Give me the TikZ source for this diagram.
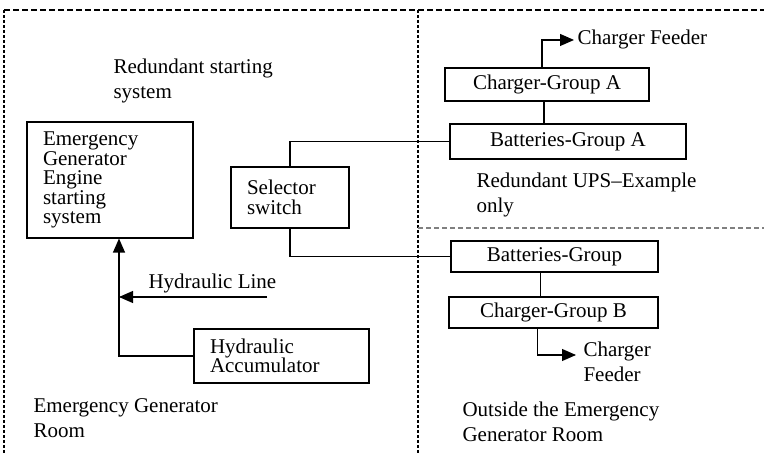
\documentclass[tikz,border=0pt]{standalone}
\usepackage{fontspec}
\setmainfont{Liberation Serif}
\usetikzlibrary{arrows.meta,positioning}
\begin{document}
\begin{tikzpicture}[x=1pt,y=-1pt,line width=1.1pt]
	\tikzstyle{unit box}=[draw,rectangle,inner sep=0pt,font=\fontsize{21}{19.5}\selectfont]
	\tikzstyle{left box}=[unit box,align=left,inner xsep=16pt]
	\tikzstyle{label}=[inner sep=0pt,anchor=north west,align=left,font=\fontsize{21}{25}\selectfont]
	\tikzstyle{room line}=[dash pattern=on 3pt off 2pt]
	\tikzstyle{feed}=[-{Triangle[length=14pt,width=12pt]}]
	\useasboundingbox (0,0) rectangle (764,454);
	% rooms
	\draw[dash pattern=on 6pt off 3pt](4,10)--(764,10);
	\draw[room line](4,10)--(4,454);
	\draw[room line](418,10)--(418,454);
	\draw[gray,dash pattern=on 5pt off 3pt](418,228)--(764,228);
	% emergency generator room
	\node(eng)[left box,minimum width=166pt,minimum height=116pt,text width=134pt] at (110,180)
		{Emergency\\Generator\\Engine\\starting\\system};
	\node(sel)[left box,minimum width=118pt,minimum height=61pt,text width=86pt] at (290,197.5)
		{Selector\\switch};
	\node(acc)[left box,minimum width=175pt,minimum height=54pt,text width=143pt] at (281.5,356)
		{Hydraulic\\Accumulator};
	\node(rss)[label] at (113,58) {Redundant starting\\system};
	\node(egr)[label] at (33,398) {Emergency Generator\\Room};
	\node(hl)[label,anchor=base west] at (148,289) {Hydraulic Line};
	\coordinate(riser) at ([xshift=9pt]eng.south);
	\coordinate(hlStart) at (267,297);
	\draw[feed](acc.west)-|(riser);
	\draw[feed](hlStart)--(hlStart-|riser);
	% outside the room
	\node(chA)[unit box,minimum width=204pt,minimum height=33pt] at (547,84.5) {Charger-Group A};
	\node(batA)[unit box,minimum width=236pt,minimum height=35pt] at (568,141.5) {Batteries-Group A};
	\node(batB)[unit box,minimum width=207pt,minimum height=31pt] at (554.5,256.5) {Batteries-Group};
	\node(chB)[unit box,minimum width=209pt,minimum height=31pt] at (553.5,312.5) {Charger-Group B};
	\node(fA)[label,anchor=base west,inner sep=3pt] at (574,45) {Charger Feeder};
	\node(fB)[label] at (583,341) {Charger\\Feeder};
	\node(ups)[label] at (476,172) {Redundant UPS–Example\\only};
	\node(out)[label] at (462,401) {Outside the Emergency\\Generator Room};
	\coordinate(tipB) at (576,355);
	\draw(sel.north)|-(batA.west);
	\draw(sel.south)|-(batB.west);
	\draw([xshift=-3pt]chA.south)--([xshift=-3pt]chA.south|-batA.north);
	\draw([xshift=-14pt]batB.south)--([xshift=-14pt]batB.south|-chB.north);
	\draw[feed]([xshift=-5pt]chA.north)|-(fA.west);
	\draw[feed]([xshift=-16pt]chB.south)|-(tipB);
\end{tikzpicture}
\end{document}
